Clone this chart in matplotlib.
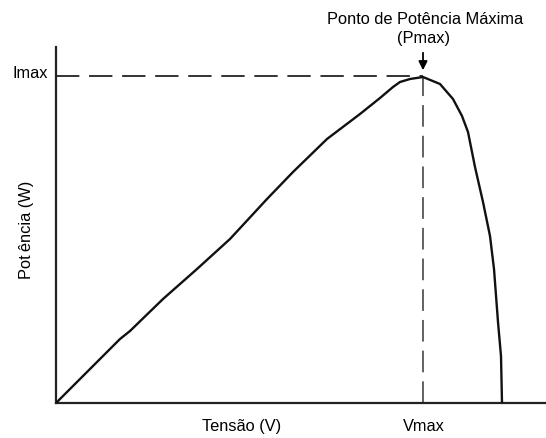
import matplotlib
matplotlib.use('Agg')
import matplotlib.pyplot as plt

# curva P-V (unidades arbitrárias)
tensao = [0, 64, 74, 107, 141, 174, 211, 237, 271, 304, 324, 337, 344,
          354, 367, 384, 397, 406, 412, 419, 427, 434, 438, 442, 445, 446]
potencia = [0, 64, 72, 104, 134, 164, 204, 231, 264, 289, 305, 316, 321,
            324, 326, 319, 304, 287, 271, 236, 201, 167, 134, 81, 47, 0]
v_max = 367
i_max = 326

plt.rcParams['font.family'] = ['Liberation Sans', 'DejaVu Sans']

fig = plt.figure(figsize=(5.46, 4.39), dpi=100)
W, H = 546, 439
left, right, bottom, top = 56, 546, 404, 48
ax = fig.add_axes([left / W, (H - bottom) / H, (right - left) / W, (bottom - top) / H])
ax.set_xlim(0, right - left)
ax.set_ylim(0, bottom - top)

for s in ['top', 'right']:
    ax.spines[s].set_visible(False)
for s in ['left', 'bottom']:
    ax.spines[s].set_linewidth(1.6)
    ax.spines[s].set_color('#222222')
ax.set_xticks([])
ax.set_yticks([])

# linhas tracejadas até o ponto de potência máxima
ax.plot([0, v_max], [i_max + 1, i_max + 1], color='#333333', lw=1.4,
        dashes=(12, 5), clip_on=False)
ax.plot([v_max, v_max], [0, i_max], color='#555555', lw=1.3,
        dashes=(12, 5), clip_on=False)

ax.plot(tensao, potencia, color='#111111', lw=1.7, solid_joinstyle='round', zorder=3)

# seta do Pmax
ax.annotate('', xy=(v_max, i_max + 4), xytext=(v_max, i_max + 27),
            arrowprops=dict(arrowstyle='-|>', color='black', lw=1.3,
                            mutation_scale=13), annotation_clip=False)

fs = 11.8
fig.text(425 / W, 1 - 19 / H, 'Ponto de Potência Máxima', ha='center', va='center',
         fontsize=fs)
fig.text(423 / W, 1 - 39 / H, '(Pmax)', ha='center', va='center', fontsize=fs)
fig.text(48 / W, 1 - 74 / H, 'Imax', ha='right', va='center', fontsize=fs)
fig.text(424 / W, 1 - 427 / H, 'Vmax', ha='center', va='center', fontsize=fs)
fig.text(242 / W, 1 - 427 / H, 'Tensão (V)', ha='center', va='center', fontsize=fs)
fig.text(27 / W, 1 - 230 / H, 'Pot\u2009ência (W)', ha='center', va='center',
         rotation=90, fontsize=fs)

fig.savefig('out.png', dpi=100, facecolor='white')
